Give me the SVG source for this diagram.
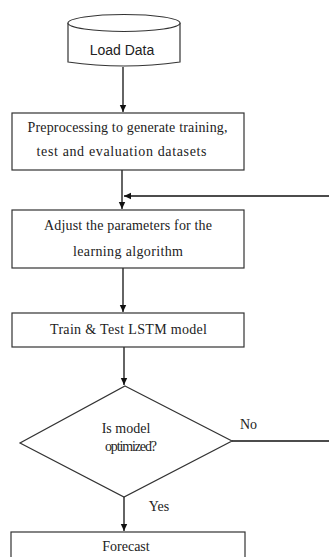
<svg xmlns="http://www.w3.org/2000/svg" width="329" height="557" viewBox="0 0 329 557">
<defs>
<marker id="ah" markerWidth="8" markerHeight="8" refX="7" refY="4" orient="auto" markerUnits="userSpaceOnUse">
<path d="M0,0.8 L7,4 L0,7.2 Z" fill="#111"/>
</marker>
<style>
.box{fill:#fff;stroke:#333;stroke-width:1.2}
.t{font-family:"Liberation Serif","Times New Roman",serif;font-size:14px;fill:#222;text-anchor:middle}
.s{font-family:"Liberation Sans",Arial,sans-serif;font-size:14px;fill:#222;text-anchor:middle}
.c{fill:none;stroke:#111;stroke-width:1.3}
</style>
</defs>
<rect width="329" height="557" fill="#fff"/>
<g id="connectors">
<line class="c" x1="123" y1="67" x2="123" y2="112" marker-end="url(#ah)"/>
<line class="c" x1="122" y1="170" x2="122" y2="209" marker-end="url(#ah)"/>
<line class="c" x1="329" y1="196" x2="124" y2="196" marker-end="url(#ah)"/>
<line class="c" x1="123" y1="268" x2="123" y2="312" marker-end="url(#ah)"/>
<line class="c" x1="124" y1="347" x2="124" y2="385" marker-end="url(#ah)"/>
<line class="c" x1="232" y1="441" x2="329" y2="441"/>
<line class="c" x1="124" y1="497" x2="124" y2="531" marker-end="url(#ah)"/>
<text class="t" x="248.5" y="429">No</text>
<text class="t" x="159" y="511">Yes</text>
</g>
<g id="load-data">
<path class="box" d="M68,23 L68,62 Q124,70 180,62 L180,23"/>
<ellipse class="box" cx="124" cy="23" rx="56" ry="8.5"/>
<text class="s" x="122" y="55">Load Data</text>
</g>
<g id="preprocess">
<rect class="box" x="12" y="113" width="232" height="57"/>
<text class="t" x="127.5" y="132" textLength="200" lengthAdjust="spacing">Preprocessing to generate training,</text>
<text class="t" x="121.5" y="156" textLength="170" lengthAdjust="spacing">test and evaluation datasets</text>
</g>
<g id="adjust">
<rect class="box" x="12" y="210" width="232" height="58"/>
<text class="t" x="128" y="230" textLength="168" lengthAdjust="spacing">Adjust the parameters for the</text>
<text class="t" x="128" y="256" textLength="110" lengthAdjust="spacing">learning algorithm</text>
</g>
<g id="train">
<rect class="box" x="12" y="313" width="232" height="34"/>
<text class="t" x="128.5" y="334" textLength="157" lengthAdjust="spacing">Train &amp; Test LSTM model</text>
</g>
<g id="decision">
<polygon class="box" points="125,386 232,441 124,497 20,443"/>
<text class="t" x="126" y="433">Is model</text>
<text class="t" x="131" y="451" textLength="52" lengthAdjust="spacing">optimized?</text>
</g>
<g id="forecast">
<rect class="box" x="11" y="532" width="234" height="40"/>
<text class="t" x="126" y="551">Forecast</text>
</g>
</svg>
